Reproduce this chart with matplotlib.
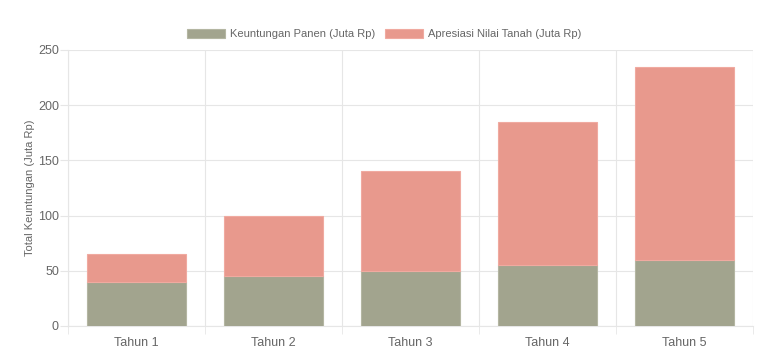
import numpy as np
import matplotlib
matplotlib.use('Agg')
import matplotlib.pyplot as plt

tahun = ['Tahun 1', 'Tahun 2', 'Tahun 3', 'Tahun 4', 'Tahun 5']
panen = [40, 45, 50, 55, 60]
apresiasi = [25, 55, 90, 130, 175]

plt.rcParams['font.family'] = ['Liberation Sans', 'DejaVu Sans']
txt = '#666666'
grid = '#e6e6e6'

fig = plt.figure(figsize=(7.68, 3.58), dpi=100)
ax = fig.add_axes([0.0885, 0.0894, 0.892, 0.771])

x = np.arange(len(tahun))
ax.bar(x, panen, width=0.72, color='#a2a48e', edgecolor='#b4b6a2', linewidth=0.8,
       label='Keuntungan Panen (Juta Rp)', zorder=3)
ax.bar(x, apresiasi, width=0.72, bottom=panen, color='#e8998d', edgecolor='#f0aaa0',
       linewidth=0.8, label='Apresiasi Nilai Tanah (Juta Rp)', zorder=3)

ax.set_xlim(-0.5, len(tahun) - 0.5)
ax.set_ylim(0, 250)
ax.set_yticks(range(0, 251, 50))
ax.set_xticks(x)
ax.set_xticklabels(tahun)
ax.set_xticks(np.arange(-0.5, len(tahun)), minor=True)

ax.grid(axis='y', color=grid, linewidth=0.8, zorder=0)
ax.grid(axis='x', which='minor', color=grid, linewidth=0.8, zorder=0)
ax.tick_params(axis='x', which='major', length=0, colors=txt, labelsize=9, pad=8)
ax.tick_params(axis='x', which='minor', length=6, color=grid)
ax.tick_params(axis='y', length=6, color=grid, colors=txt, labelsize=9, pad=0.5)
for t in ax.get_yticklabels():
    t.set_color(txt)
for s in ['top', 'right']:
    ax.spines[s].set_visible(False)
for s in ['left', 'bottom']:
    ax.spines[s].set_color(grid)
    ax.spines[s].set_linewidth(0.8)

ax.set_ylabel('Total Keuntungan (Juta Rp)', color=txt, fontsize=8, labelpad=2)

fig.legend(*ax.get_legend_handles_labels(), loc='center', bbox_to_anchor=(0.5, 0.905),
           ncol=2, frameon=False, fontsize=8, labelcolor=txt, handlelength=3.4,
           handleheight=0.9, columnspacing=0.9, handletextpad=0.45)

fig.savefig('out.png', dpi=100)
